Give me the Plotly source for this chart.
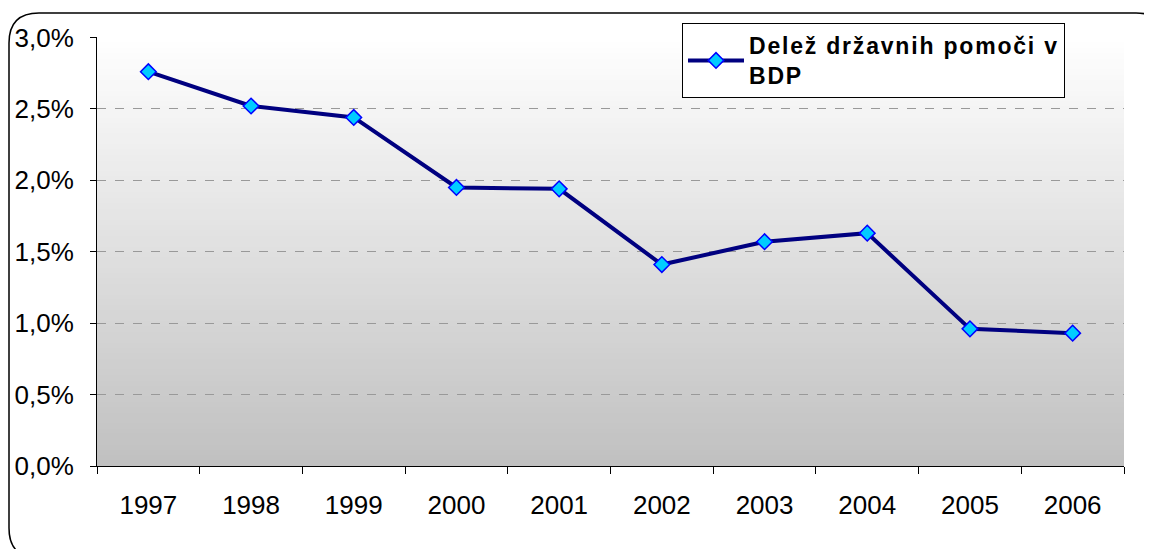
import plotly.graph_objects as go

years = ["1997", "1998", "1999", "2000", "2001", "2002", "2003", "2004", "2005", "2006"]
share = [2.76, 2.52, 2.44, 1.95, 1.94, 1.41, 1.57, 1.63, 0.96, 0.93]
series_lines = ["Delež državnih pomoči v", "BDP"]
y_ticks = [0.0, 0.5, 1.0, 1.5, 2.0, 2.5, 3.0]
y_tick_labels = ["0,0%", "0,5%", "1,0%", "1,5%", "2,0%", "2,5%", "3,0%"]

series_name = "<br>".join('<span style="letter-spacing:1.8px">%s</span>' % s for s in series_lines)

W, H = 1152, 549
OFF = 8  # page body margin
L, R, T, B = 97 - OFF, 36, 37 - OFF, 91
pw, ph = W - L - R, H - T - B

def px2paper(sx, sy):
    x, y = sx - OFF, sy - OFF
    return (x - L) / pw, (H - B - y) / ph

fig = go.Figure()
fig.add_trace(go.Scatter(
    x=years, y=share, mode="lines+markers", name=series_name,
    line=dict(color="#000080", width=4),
    marker=dict(symbol="diamond", size=12, color="#00CCFF",
                line=dict(color="#0000FF", width=1.5)),
))

shapes = []
n = 80
top_c = (255, 255, 255)
bot_c = (192, 192, 192)
for i in range(n):
    f = (i + 0.5) / n
    c = tuple(round(top_c[k] + (bot_c[k] - top_c[k]) * f) for k in range(3))
    shapes.append(dict(type="rect", xref="paper", yref="paper",
                       x0=0, x1=1, y0=max(0, 1 - (i + 1.6) / n), y1=1 - i / n,
                       fillcolor="rgb(%d,%d,%d)" % c, line=dict(width=0),
                       layer="below"))

def P(x, y):
    a, b = px2paper(x, y)
    return "%f,%f" % (a, b)

def rounded(x0, y0, x1, y1, r):
    return ("M " + P(x0 + r, y0) + " L " + P(x1 - r, y0) +
            " Q " + P(x1, y0) + " " + P(x1, y0 + r) +
            " L " + P(x1, y1 - r) +
            " Q " + P(x1, y1) + " " + P(x1 - r, y1) +
            " L " + P(x0 + r, y1) +
            " Q " + P(x0, y1) + " " + P(x0, y1 - r) +
            " L " + P(x0, y0 + r) +
            " Q " + P(x0, y0) + " " + P(x0 + r, y0) + " Z")

x1f, y1f = 1166, 558
shadow = ("M " + P(x1f + 3, y1f - 40) + " L " + P(x1f + 3, y1f - 27) +
          " Q " + P(x1f + 3, y1f + 3) + " " + P(x1f - 27, y1f + 3) +
          " L " + P(x1f - 40, y1f + 3))
shapes.append(dict(type="path", xref="paper", yref="paper", path=shadow,
                   line=dict(color="black", width=6), layer="above"))
shapes.append(dict(type="path", xref="paper", yref="paper",
                   path=rounded(9, 13, x1f, y1f, 30),
                   fillcolor="rgba(0,0,0,0)",
                   line=dict(color="black", width=1.5), layer="above"))

lx, ly = px2paper(682, 23)

fig.update_layout(
    width=W, height=H,
    margin=dict(l=L, r=R, t=T, b=B, autoexpand=False),
    paper_bgcolor="white", plot_bgcolor="rgba(0,0,0,0)",
    font=dict(family="Liberation Sans, Arial", size=26, color="black"),
    shapes=shapes,
    showlegend=True,
    legend=dict(x=lx, y=ly, xanchor="left", yanchor="top",
                bgcolor="white", bordercolor="black", borderwidth=1,
                font=dict(family="Liberation Sans, Arial", size=23, color="black", weight="bold"),
                itemwidth=56, tracegroupgap=0),
    xaxis=dict(type="category", showgrid=False, showline=True, linecolor="black", linewidth=1,
               ticks="outside", tickson="boundaries", ticklen=7, tickcolor="black",
               ticklabelstandoff=16,
               tickfont=dict(size=26), range=[-0.5, 9.5]),
    yaxis=dict(range=[0, 3.003], tickvals=y_ticks, ticktext=y_tick_labels,
               showgrid=True, gridcolor="#999999", griddash="dash", gridwidth=1,
               showline=True, linecolor="black", linewidth=1,
               ticks="outside", ticklen=6, tickcolor="black",
               ticklabelstandoff=11,
               zeroline=False, tickfont=dict(size=26)),
)

fig.write_html("out.html")
